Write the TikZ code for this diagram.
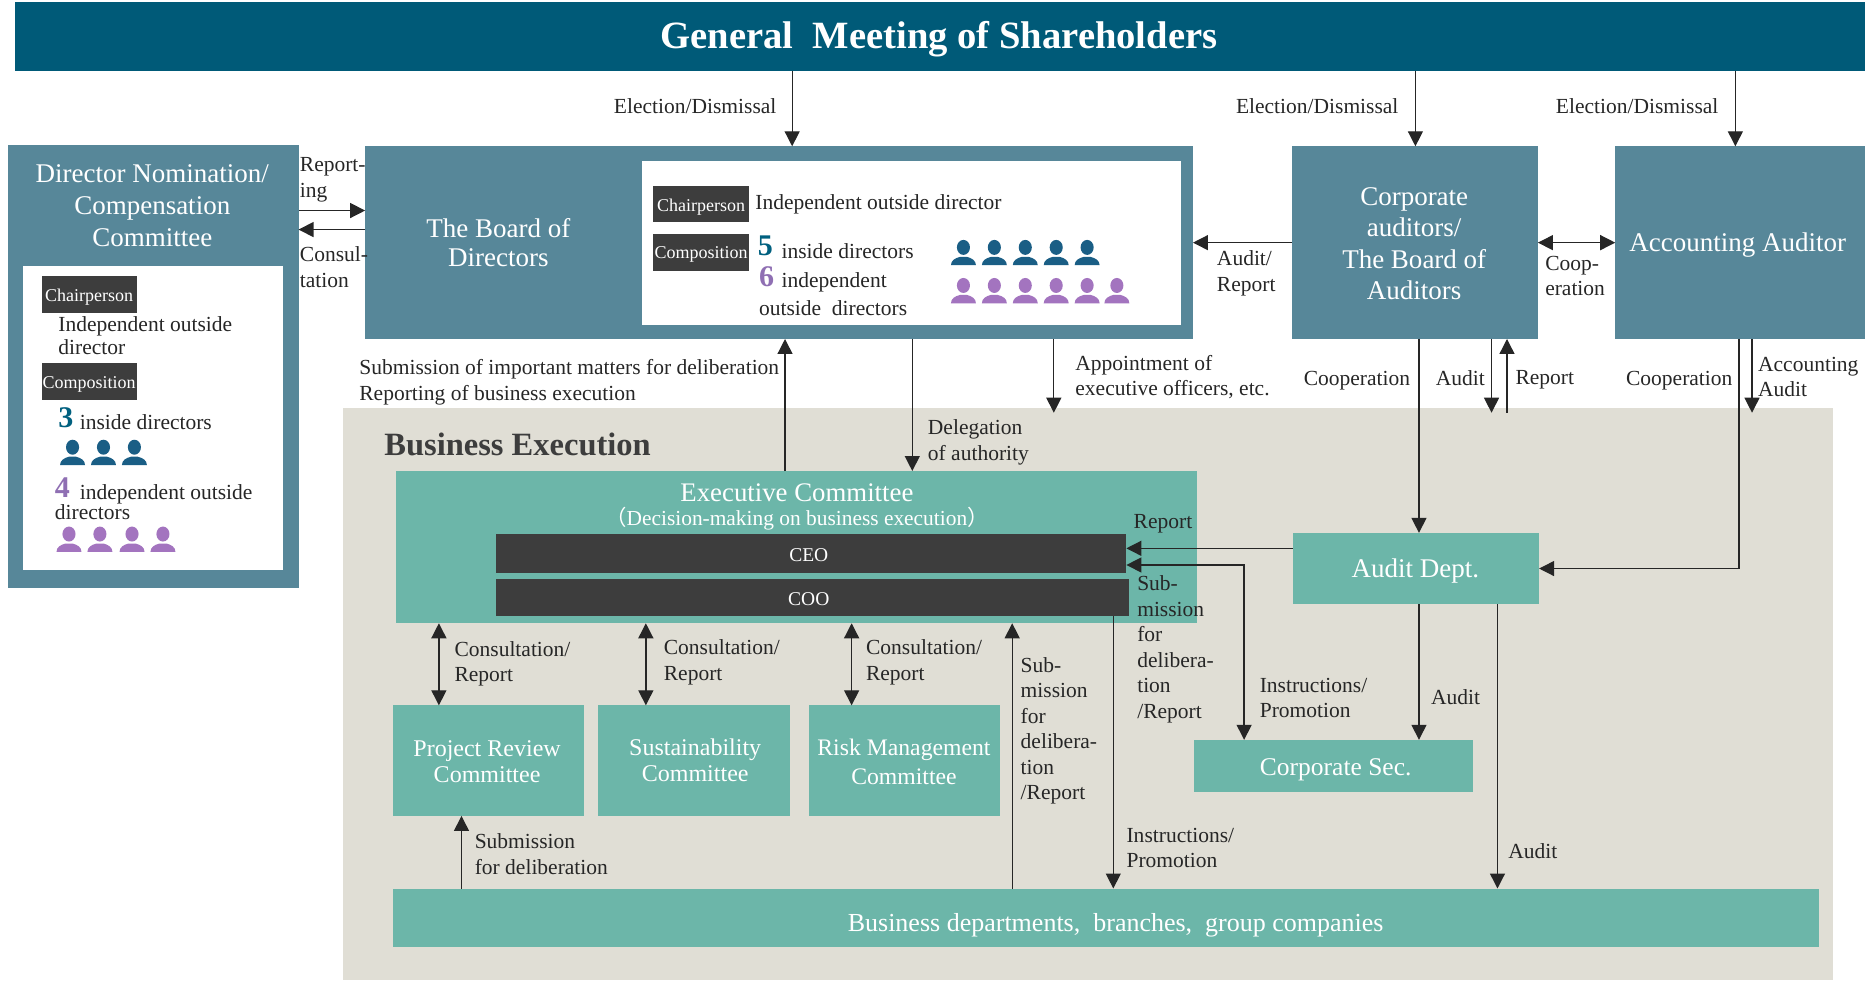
\documentclass[tikz,border=0pt]{standalone}
\usepackage{fontspec}
\setmainfont{Liberation Serif}
\newfontfamily\cjk{Noto Sans CJK JP}
\usetikzlibrary{arrows.meta}
\definecolor{topblue}{HTML}{005A78}
\definecolor{panelblue}{HTML}{578799}
\definecolor{teal}{HTML}{6CB6A9}
\definecolor{execbg}{HTML}{E0DED5}
\definecolor{darkbar}{HTML}{3D3D3D}
\definecolor{iconblue}{HTML}{1A5E85}
\definecolor{iconpurple}{HTML}{A374BF}
\definecolor{numblue}{HTML}{00607F}
\definecolor{numpurple}{HTML}{8F6FB3}
\tikzset{
  wh/.style 2 args={minimum width=#1*1.1894pt,minimum height=#2*1.1894pt},
  rect/.style={anchor=north west,inner sep=0pt,outer sep=0pt},
  boxtext/.style={anchor=center,inner sep=0pt,align=center,text=white,font=\fontsize{27}{31.5}\selectfont},
  lbl/.style={anchor=west,inner sep=0pt,align=left,text=black!85,font=\fontsize{21.5}{25.5}\selectfont},
  badge/.style={rect,fill=darkbar,wh={81}{31}},
  badgetext/.style={boxtext,font=\fontsize{18}{20}\selectfont},
  num/.style={lbl,font=\fontsize{30}{30}\selectfont\bfseries},
  arr/.style={draw=black!85,line width=1.3pt,-{Triangle[length=15pt,width=15pt]}},
  dbl/.style={draw=black!85,line width=1.3pt,{Triangle[length=15pt,width=15pt]}-{Triangle[length=15pt,width=15pt]}},
  person/.pic={
    \fill[pic actions] (0,-15) ellipse [x radius=5.5,y radius=6.3];
    \fill[pic actions] (-10.5,0) .. controls (-10.5,-4) and (-7,-6) .. (-3,-7) -- (3,-7) .. controls (7,-6) and (10.5,-4) .. (10.5,0) -- cycle;
  }
}
\begin{document}
\begin{tikzpicture}[x=1.1894pt,y=-1.1894pt]
    \useasboundingbox (0,0) rectangle (1568,824);%
    \foreach \x in {369,388,543,660,666,716,767,851,886,936,1046,1190,1193,1254,1259,1267,1459,1462,1473} {%
      \coordinate (x\x) at (\x,0);%
    };%
    \foreach \y in {177,193,347,461,475} {%
      \coordinate (y\y) at (0,\y);%
    };%
    \node[rect,fill=topblue,wh={1555}{58}] (general) at (13,2) {};%
    \node[boxtext,font=\fontsize{38.6}{40}\selectfont\bfseries] (generaltext) at (789.5,33) {General\ \ Meeting of Shareholders};%
    \node[rect,fill=execbg,wh={1253}{481}] (execarea) at (288,343) {};%
    \node[rect,fill=panelblue,wh={244}{372}] (nomination) at (7,122) {};%
    \node[rect,fill=white,wh={219}{255}] (nominner) at (19,224) {};%
    \node[boxtext,font=\fontsize{27}{32}\selectfont] (nomtext) at (128,173) {Director Nomination/\\Compensation\\Committee};%
    \node[rect,fill=panelblue,wh={696}{162}] (board) at (307,123) {};%
    \node[rect,fill=white,wh={453}{138}] (boardinner) at (540,135) {};%
    \node[boxtext,font=\fontsize{27}{29}\selectfont] (boardtext) at (419,204) {The Board of\\Directors};%
    \node[rect,fill=panelblue,wh={207}{162}] (auditors) at (1086,123) {};%
    \node[boxtext] (auditorstext) at (1189,205) {Corporate\\auditors/\\The Board of\\Auditors};%
    \node[rect,fill=panelblue,wh={210}{162}] (accounting) at (1358,123) {};%
    \node[boxtext] (accountingtext) at (1461,206) {Accounting Auditor};%
    \node[rect,fill=teal,wh={673}{128}] (exec) at (333,396) {};%
    \node[boxtext,font=\fontsize{26.8}{30}\selectfont] (exectext) at (670,414) {Executive Committee};%
    \node[boxtext,font=\fontsize{21.4}{24}\selectfont] (execsub) at (670,436) {{\cjk （}Decision-making on business execution{\cjk ）}};%
    \node[rect,fill=darkbar,wh={530}{33}] (ceo) at (417,449) {};%
    \node[badgetext,font=\fontsize{19.5}{20}\selectfont] (ceotext) at (680,467) {CEO};%
    \node[rect,fill=darkbar,wh={532}{31}] (coo) at (417,487) {};%
    \node[badgetext,font=\fontsize{19.5}{20}\selectfont] (cootext) at (680,504) {COO};%
    \node[rect,fill=teal,wh={207}{60}] (audit) at (1087,448) {};%
    \node[boxtext] (audittext) at (1190,480) {Audit Dept.};%
    \node[rect,fill=teal,wh={234}{44}] (corpsec) at (1004,622) {};%
    \node[boxtext,font=\fontsize{25.5}{30}\selectfont] (corpsectext) at (1123,647) {Corporate Sec.};%
    \node[rect,fill=teal,wh={161}{93}] (project) at (330,593) {};%
    \node[boxtext,font=\fontsize{24}{26}\selectfont] (projecttext) at (409.5,640) {Project Review\\Committee};%
    \node[rect,fill=teal,wh={161}{93}] (sustain) at (503,593) {};%
    \node[boxtext,font=\fontsize{24}{26}\selectfont] (sustaintext) at (584.5,639) {Sustainability\\Committee};%
    \node[rect,fill=teal,wh={161}{93}] (risk) at (680,593) {};%
    \node[boxtext,font=\fontsize{23.7}{29}\selectfont] (risktext) at (760,640.5) {Risk Management\\Committee};%
    \node[rect,fill=teal,wh={1199}{49}] (depts) at (330,747) {};%
    \node[boxtext,font=\fontsize{26}{30}\selectfont] (deptstext) at (938,778) {Business departments,\ \ branches,\ \ group companies};%
    \node[badge,wh={80}{31}] (chairL) at (35,232) {};%
    \node[badgetext] (chairLtext) at (75,250) {Chairperson};%
    \node[badge,wh={80}{31}] (compL) at (35,305) {};%
    \node[badgetext] (compLtext) at (75,323) {Composition};%
    \node[badge] (chairB) at (549,156) {};%
    \node[badgetext] (chairBtext) at (589.5,174) {Chairperson};%
    \node[badge] (compB) at (549,197) {};%
    \node[badgetext] (compBtext) at (589.5,214) {Composition};%
    \draw[arr] (general.south -| x666) -- (board.north -| x666);%
    \draw[arr] (general.south -| x1190) -- (auditors.north -| x1190);%
    \draw[arr] (general.south -| x1459) -- (accounting.north -| x1459);%
    \draw[arr] (nomination.east |- y177) -- (board.west |- y177);%
    \draw[arr] (board.west |- y193) -- (nomination.east |- y193);%
    \draw[arr] (auditors.west) -- (board.east);%
    \draw[dbl] (auditors.east) -- (accounting.west);%
    \draw[arr] (exec.north -| x660) -- (board.south -| x660);%
    \draw[arr] (board.south -| x767) -- (exec.north -| x767);%
    \draw[arr] (board.south -| x886) -- (x886 |- y347);%
    \draw[arr] (auditors.south -| x1193) -- (audit.north -| x1193);%
    \draw[arr] (auditors.south -| x1254) -- (x1254 |- y347);%
    \draw[arr] (x1267 |- y347) -- (auditors.south -| x1267);%
    \draw[arr] (accounting.south -| x1473) -- (x1473 |- y347);%
    \draw[arr] (accounting.south -| x1462) |- (audit.east);%
    \draw[arr] (audit.west |- y461) -- (ceo.east |- y461);%
    \draw[dbl] (ceo.east |- y475) -| (corpsec.north -| x1046);%
    \draw[arr] (audit.south -| x1193) -- (corpsec.north -| x1193);%
    \draw[arr] (audit.south -| x1259) -- (depts.north -| x1259);%
    \draw[arr] (coo.south -| x936) -- (depts.north -| x936);%
    \draw[arr] (depts.north -| x851) -- (exec.south -| x851);%
    \draw[dbl] (exec.south -| x369) -- (project.north -| x369);%
    \draw[dbl] (exec.south -| x543) -- (sustain.north -| x543);%
    \draw[dbl] (exec.south -| x716) -- (risk.north -| x716);%
    \draw[arr] (depts.north -| x388) -- (project.south -| x388);%
    \foreach \n/\x in {a/516,b/1039,c/1308} {%
      \node[lbl] (elect\n) at (\x,89) {Election/Dismissal};%
    };%
    \foreach \n/\x/\y in {a/382/558,b/558/557,c/728/557} {%
      \node[lbl] (consult\n) at (\x,\y) {Consultation/\\Report};%
    };%
    \node[lbl] (lblreporting) at (252,151) {Report-\\ing};%
    \node[lbl] (lblconsul) at (252,224.5) {Consul-\\tation};%
    \node[lbl] (lblauditrep) at (1023,230) {Audit/\\Report};%
    \node[lbl] (lblcoop) at (1299,232) {Coop-\\eration};%
    \node[lbl] (lblsubmit) at (302,321.5) {Submission of important matters for deliberation\\Reporting of business execution};%
    \node[lbl] (lblappoint) at (904,317) {Appointment of\\executive officers, etc.};%
    \node[lbl] (lbldeleg) at (780,372) {Delegation\\of authority};%
    \node[lbl] (lblcoopa) at (1096,320) {Cooperation};%
    \node[lbl] (lblaudita) at (1207,318) {Audit};%
    \node[lbl] (lblreporta) at (1274,319) {Report};%
    \node[lbl] (lblcoopb) at (1367,320) {Cooperation};%
    \node[lbl] (lblacc) at (1478,317) {Accounting\\Audit};%
    \node[lbl,text=darkbar,font=\fontsize{32.5}{34}\selectfont\bfseries] (lblbizexec) at (323,374) {Business Execution};%
    \node[lbl] (lblreportb) at (953,440.5) {Report};%
    \node[lbl] (lblsubb) at (956,546) {Sub-\\mission\\for\\delibera-\\tion\\/Report};%
    \node[lbl] (lblsubc) at (858,614.5) {Sub-\\mission\\for\\delibera-\\tion\\/Report};%
    \node[lbl] (lblinstra) at (1059,587) {Instructions/\\Promotion};%
    \node[lbl] (lblinstrb) at (947,713) {Instructions/\\Promotion};%
    \node[lbl] (lblauditb) at (1203,586) {Audit};%
    \node[lbl] (lblauditc) at (1268,716) {Audit};%
    \node[lbl] (lblsubd) at (399,718) {Submission\\for deliberation};%
    \node[lbl,font=\fontsize{21.5}{22.6}\selectfont] (chairtextL) at (49,282) {Independent outside\\director};%
    \node[num,text=numblue] (numthree) at (49,351) {3};%
    \node[lbl] (insideL) at (67,355) {inside directors};%
    \node[num,text=numpurple] (numfour) at (46,410) {4};%
    \node[lbl] (indepL) at (67,415.5) {independent outside};%
    \node[lbl] (dirL) at (46,431) {directors};%
    \node[lbl] (chairtextB) at (635,171.5) {Independent outside director};%
    \node[num,text=numblue] (numfive) at (637,207) {5};%
    \node[lbl] (insideB) at (657,211) {inside directors};%
    \node[num,text=numpurple] (numsix) at (638,233) {6};%
    \node[lbl] (indepB) at (657,237.5) {independent};%
    \node[lbl] (dirB) at (638,259) {outside\ \ directors};%
    \foreach \x in {61,87,113} {%
      \pic[fill=iconblue] at (\x,391) {person};%
    };%
    \foreach \x in {58,84,111,137} {%
      \pic[fill=iconpurple] at (\x,464) {person};%
    };%
    \foreach \x in {810,836,862,888,914} {%
      \pic[fill=iconblue] at (\x,223) {person};%
    };%
    \foreach \x in {810,836,862,888,914,939} {%
      \pic[fill=iconpurple] at (\x,255) {person};%
    };%
  \end{tikzpicture}
\end{document}
